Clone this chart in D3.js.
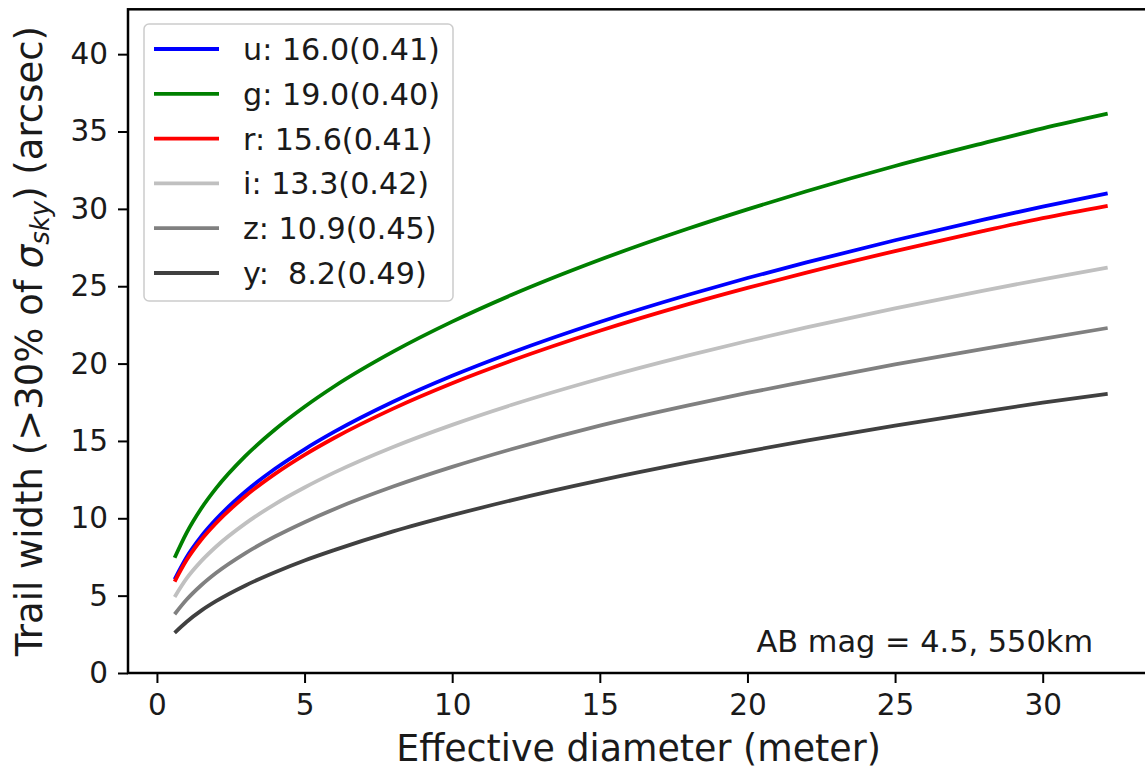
<!DOCTYPE html>
<html>
<head>
<meta charset="utf-8">
<script src="https://cdn.jsdelivr.net/npm/d3@7"></script>
<style>
  html, body { margin: 0; padding: 0; background: #fff; }
  svg { display: block; font-family: "DejaVu Sans", sans-serif; }
</style>
</head>
<body>
<svg id="chart" width="1145" height="771"></svg>
<script>
// Effective diameter (meter)
const diameters = [0.6, 1, 1.5, 2, 3, 4, 5, 6, 8, 10, 12, 15, 18, 20, 22, 25, 28, 30, 32.2];
// Trail width (arcsec)
const uValues = [6.06, 7.47, 8.83, 9.93, 11.73, 13.20, 14.46, 15.58, 17.53, 19.21, 20.70, 22.69, 24.45, 25.53, 26.54, 27.97, 29.31, 30.15, 31.0];
const gValues = [7.45, 9.04, 10.63, 11.93, 14.03, 15.74, 17.21, 18.52, 20.77, 22.71, 24.43, 26.71, 28.73, 29.97, 31.14, 32.77, 34.25, 35.2, 36.15];
const rValues = [5.91, 7.28, 8.61, 9.68, 11.44, 12.87, 14.10, 15.19, 17.09, 18.73, 20.18, 22.12, 23.84, 24.89, 25.88, 27.27, 28.58, 29.40, 30.2];
const iValues = [4.92, 6.10, 7.23, 8.16, 9.67, 10.92, 11.99, 12.95, 14.61, 16.04, 17.32, 19.02, 20.53, 21.46, 22.34, 23.57, 24.72, 25.45, 26.2];
const zValues = [3.80, 4.73, 5.67, 6.46, 7.75, 8.82, 9.75, 10.59, 12.05, 13.32, 14.46, 15.99, 17.30, 18.10, 18.85, 19.95, 20.95, 21.60, 22.3];
const yValues = [2.60, 3.30, 4.03, 4.64, 5.66, 6.51, 7.27, 7.94, 9.15, 10.20, 11.16, 12.45, 13.61, 14.33, 15.02, 15.99, 16.90, 17.48, 18.05];

const seriesNames = ["u", "g", "r", "i", "z", "y"];
const legendLabels = ["u: 16.0(0.41)", "g: 19.0(0.40)", "r: 15.6(0.41)", "i: 13.3(0.42)", "z: 10.9(0.45)", "y:  8.2(0.49)"];
const seriesColors = ["#0000ff", "#008000", "#ff0000", "#c0c0c0", "#808080", "#404040"];
const seriesValues = [uValues, gValues, rValues, iValues, zValues, yValues];

const xTicks = [0, 5, 10, 15, 20, 25, 30];
const yTicks = [0, 5, 10, 15, 20, 25, 30, 35, 40];

const svg = d3.select("#chart");
const pLeft = 128, pRight = 1149, pTop = 9.3, pBottom = 673;

const x = d3.scaleLinear().domain([-0.98, 33.6]).range([pLeft, pRight]);
const y = d3.scaleLinear().domain([0, 42.9]).range([pBottom, pTop]);

svg.append("defs").append("clipPath").attr("id", "plotclip")
  .append("rect").attr("x", pLeft).attr("y", pTop).attr("width", pRight - pLeft).attr("height", pBottom - pTop);

// Lines
const line = d3.line().x(d => x(d[0])).y(d => y(d[1])).curve(d3.curveMonotoneX);
const plot = svg.append("g").attr("clip-path", "url(#plotclip)");
seriesValues.forEach((vals, k) => {
  const pts = diameters.map((dd, i) => [dd, vals[i]]);
  plot.append("path")
    .attr("d", line(pts))
    .attr("fill", "none")
    .attr("stroke", seriesColors[k])
    .attr("stroke-width", 3.8);
});

// Axes
const xAxis = d3.axisBottom(x).tickValues(xTicks).tickSize(10).tickPadding(11).tickFormat(d3.format("d"));
const yAxis = d3.axisLeft(y).tickValues(yTicks).tickSize(10).tickPadding(10).tickFormat(d3.format("d"));

const gx = svg.append("g").attr("transform", `translate(0,${pBottom})`).call(xAxis);
const gy = svg.append("g").attr("transform", `translate(${pLeft},0)`).call(yAxis);
[gx, gy].forEach(g => {
  g.select(".domain").remove();
  g.selectAll(".tick line").attr("stroke", "#000").attr("stroke-width", 2);
  g.selectAll(".tick text").attr("fill", "#1a1a1a").attr("font-size", 29.5)
    .attr("font-family", "DejaVu Sans");
});

// Spines
svg.append("rect").attr("x", pLeft).attr("y", pTop).attr("width", pRight - pLeft).attr("height", pBottom - pTop)
  .attr("fill", "none").attr("stroke", "#000").attr("stroke-width", 2.5);

// Axis labels
svg.append("text")
  .attr("x", (pLeft + pRight) / 2).attr("y", 761)
  .attr("text-anchor", "middle").attr("font-size", 36.4).attr("fill", "#1a1a1a")
  .text("Effective diameter (meter)");

const yl = svg.append("text")
  .attr("transform", `translate(42,${(pTop + pBottom) / 2}) rotate(-90)`)
  .attr("text-anchor", "middle").attr("font-size", 37).attr("fill", "#1a1a1a");
yl.append("tspan").text("Trail width (>30% of ");
yl.append("tspan").attr("font-style", "italic").text("σ");
yl.append("tspan").attr("font-style", "italic").attr("font-size", 26).attr("dy", 7).text("sky");
yl.append("tspan").attr("dy", -7).text(") (arcsec)");

// Annotation
svg.append("text")
  .attr("x", 1093).attr("y", 652).attr("text-anchor", "end")
  .attr("font-size", 30.4).attr("fill", "#1a1a1a")
  .text("AB mag = 4.5, 550km");

// Legend
const lg = svg.append("g");
lg.append("rect").attr("x", 144).attr("y", 24).attr("width", 309).attr("height", 277)
  .attr("rx", 5).attr("fill", "#fff").attr("fill-opacity", 0.8)
  .attr("stroke", "#cccccc").attr("stroke-width", 1.5);
legendLabels.forEach((lab, k) => {
  const cy = 49 + k * 44.8;
  lg.append("line").attr("x1", 154).attr("x2", 219).attr("y1", cy).attr("y2", cy)
    .attr("stroke", seriesColors[k]).attr("stroke-width", 3.8);
  lg.append("text").attr("x", 243).attr("y", cy + 11)
    .attr("font-size", 30.2).attr("fill", "#1a1a1a")
    .attr("xml:space", "preserve").style("white-space", "pre")
    .text(lab);
});
</script>
</body>
</html>
